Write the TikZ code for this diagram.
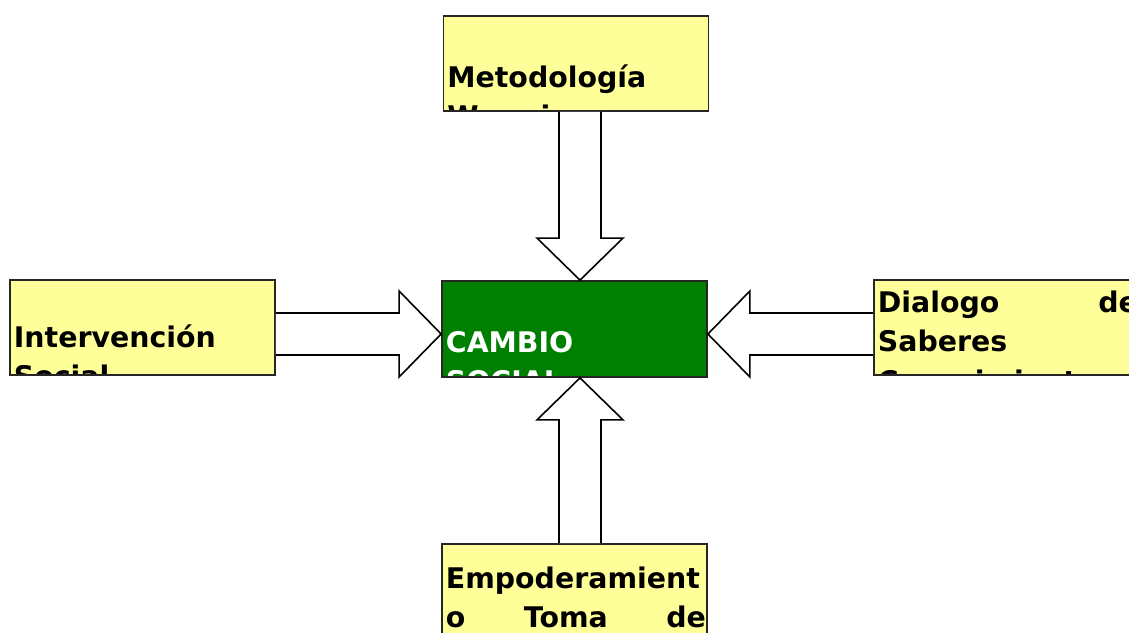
\documentclass[tikz,border=0pt]{standalone}
\usepackage{fontspec}
\setmainfont{DejaVu Sans}
\usetikzlibrary{calc}
\definecolor{amarillo}{RGB}{255,255,153}
\definecolor{verde}{RGB}{0,128,0}

\begin{document}
\begin{tikzpicture}[
  x=1pt, y=-1pt,
  caja/.style={draw=black!85, line width=1.8pt, minimum width=265, minimum height=95, inner sep=0pt},
  texto/.style={anchor=base west, inner sep=0pt, text width=260, align=left,
    font=\bfseries\fontsize{28.4}{39.5}\selectfont},
  flecha/.style={draw, fill=white, line width=1.6pt, line join=miter},
]
  \useasboundingbox (0,0) rectangle (1129,632);
  \clip (0,0) rectangle (1129,632);

  % cajas
  \node[caja, fill=amarillo, path picture={
      \node[texto] at ([shift={(0.5,71)}]path picture bounding box.north west) {Metodología\\Warmi};
    }] (metodo) at (576,63.5) {};
  \node[caja, fill=amarillo, path picture={
      \node[texto] at ([shift={(0.5,67)}]path picture bounding box.north west) {Intervención\\Social};
    }] (intervencion) at (142.5,327.5) {};
  \node[caja, fill=verde, minimum height=96, path picture={
      \node[texto, text=white] at ([shift={(0.5,71)}]path picture bounding box.north west) {CAMBIO\\SOCIAL};
    }] (cambio) at (574.5,329) {};
  \node[caja, fill=amarillo, path picture={
      \node[texto] at ([shift={(0.5,32)}]path picture bounding box.north west) {Dialogo\hfill de\\Saberes\\Conocimiento};
    }] (dialogo) at (1006.5,327.5) {};
  \node[caja, fill=amarillo, path picture={
      \node[texto] at ([shift={(0.5,44)}]path picture bounding box.north west) {Empoderamient\\o\hfill Toma\hfill de};
    }] (empo) at (574.5,591.5) {};

  % flechas hacia el centro
  \coordinate (mcola) at ($(metodo.south)+(4,0)$);
  \coordinate (mpunta) at ($(cambio.north)+(5.5,0)$);
  \draw[flecha] ($(mcola)+(-21,0)$) -- ($(mpunta)+(-21,-42)$) -- ($(mpunta)+(-43,-42)$) -- (mpunta)
    -- ($(mpunta)+(43,-42)$) -- ($(mpunta)+(21,-42)$) -- ($(mcola)+(21,0)$);

  \coordinate (icola) at ($(intervencion.east)+(0,6.5)$);
  \coordinate (ipunta) at ($(cambio.west)+(0,5)$);
  \draw[flecha] ($(icola)+(0,-21)$) -- ($(ipunta)+(-42,-21)$) -- ($(ipunta)+(-42,-43)$) -- (ipunta)
    -- ($(ipunta)+(-42,43)$) -- ($(ipunta)+(-42,21)$) -- ($(icola)+(0,21)$);

  \coordinate (dcola) at ($(dialogo.west)+(0,6.5)$);
  \coordinate (dpunta) at ($(cambio.east)+(0,5)$);
  \draw[flecha] ($(dcola)+(0,-21)$) -- ($(dpunta)+(42,-21)$) -- ($(dpunta)+(42,-43)$) -- (dpunta)
    -- ($(dpunta)+(42,43)$) -- ($(dpunta)+(42,21)$) -- ($(dcola)+(0,21)$);

  \coordinate (ecola) at ($(empo.north)+(5.5,0)$);
  \coordinate (epunta) at ($(cambio.south)+(5.5,0)$);
  \draw[flecha] ($(ecola)+(-21,0)$) -- ($(epunta)+(-21,42)$) -- ($(epunta)+(-43,42)$) -- (epunta)
    -- ($(epunta)+(43,42)$) -- ($(epunta)+(21,42)$) -- ($(ecola)+(21,0)$);
\end{tikzpicture}
\end{document}
